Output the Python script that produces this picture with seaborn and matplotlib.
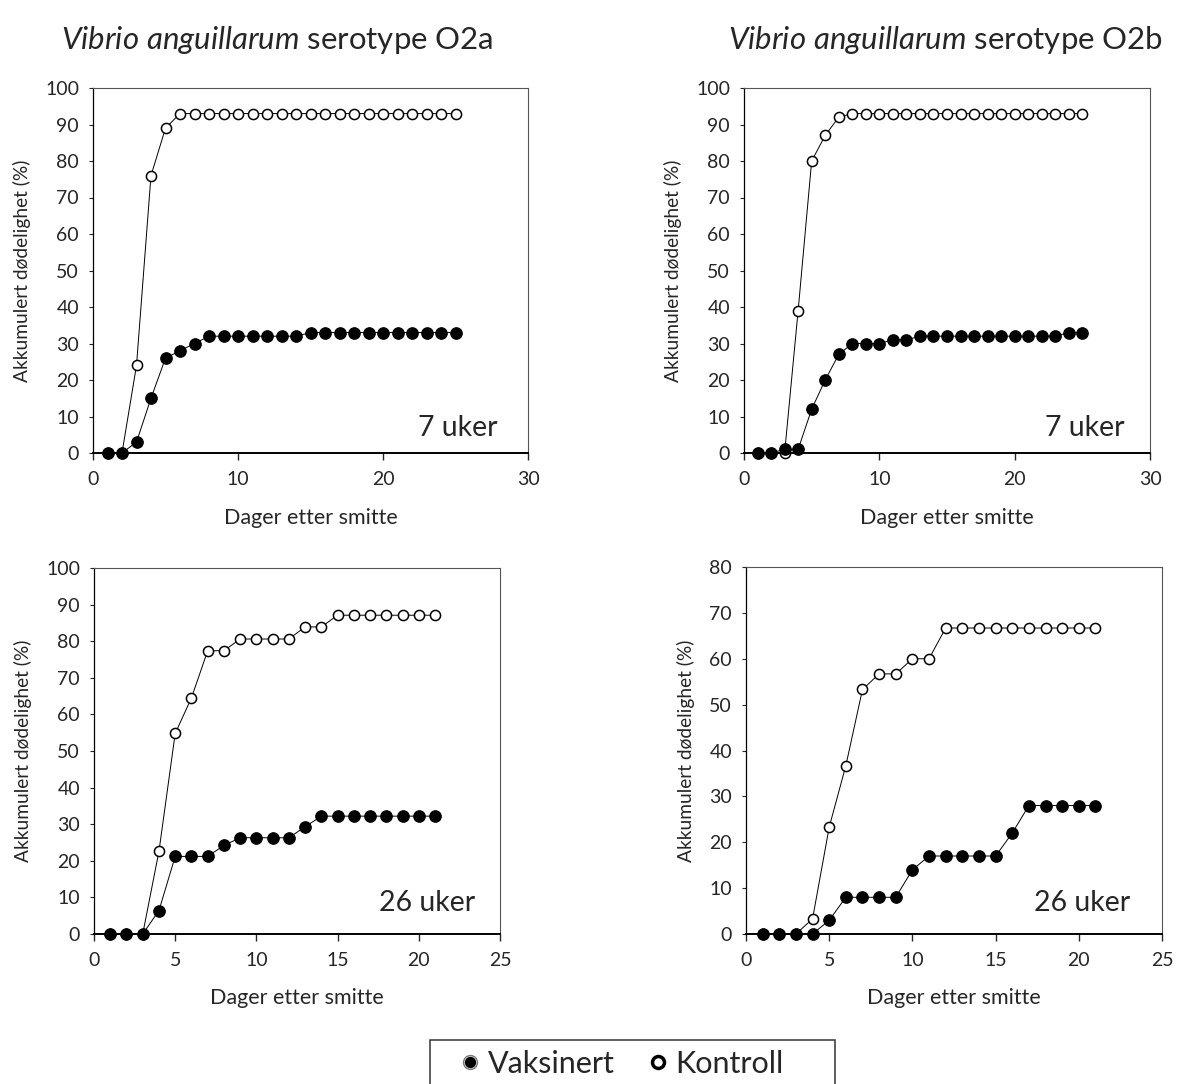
import matplotlib
matplotlib.use("Agg")
import matplotlib.pyplot as plt
from matplotlib.lines import Line2D
from matplotlib.patches import Rectangle
from matplotlib.legend_handler import HandlerTuple
import seaborn as sns
import pandas as pd

# ---------------- data ----------------
days_25 = [1, 2, 3, 4, 5, 6, 7, 8, 9, 10, 11, 12, 13, 14, 15, 16, 17, 18, 19, 20, 21, 22, 23, 24, 25]
days_21 = [1, 2, 3, 4, 5, 6, 7, 8, 9, 10, 11, 12, 13, 14, 15, 16, 17, 18, 19, 20, 21]

# O2a, 7 uker
kontroll_a7 = [0, 0, 24, 76, 89, 93, 93, 93, 93, 93, 93, 93, 93, 93, 93, 93, 93, 93, 93, 93, 93, 93, 93, 93, 93]
vaks_a7 = [0, 0, 3, 15, 26, 28, 30, 32, 32, 32, 32, 32, 32, 32, 33, 33, 33, 33, 33, 33, 33, 33, 33, 33, 33]
# O2b, 7 uker
kontroll_b7 = [0, 0, 0, 39, 80, 87, 92, 93, 93, 93, 93, 93, 93, 93, 93, 93, 93, 93, 93, 93, 93, 93, 93, 93, 93]
vaks_b7 = [0, 0, 1, 1, 12, 20, 27, 30, 30, 30, 31, 31, 32, 32, 32, 32, 32, 32, 32, 32, 32, 32, 32, 33, 33]
# O2a, 26 uker
kontroll_a26 = [0, 0, 0, 22.6, 54.8, 64.5, 77.4, 77.4, 80.6, 80.6, 80.6, 80.6, 83.9, 83.9, 87.1, 87.1, 87.1, 87.1, 87.1, 87.1, 87.1]
vaks_a26 = [0, 0, 0, 6.4, 21.2, 21.2, 21.2, 24.2, 26.3, 26.3, 26.3, 26.3, 29.3, 32.2, 32.2, 32.2, 32.2, 32.2, 32.2, 32.2, 32.2]
# O2b, 26 uker
kontroll_b26 = [0, 0, 0, 3.3, 23.3, 36.7, 53.3, 56.7, 56.7, 60, 60, 66.7, 66.7, 66.7, 66.7, 66.7, 66.7, 66.7, 66.7, 66.7, 66.7]
vaks_b26 = [0, 0, 0, 0, 3, 8, 8, 8, 8, 14, 17, 17, 17, 17, 17, 22, 28, 28, 28, 28, 28]

titles = ["serotype O2a", "serotype O2b"]
species = "Vibrio anguillarum"
panel_labels = ["7 uker", "7 uker", "26 uker", "26 uker"]
xlabel = "Dager etter smitte"
ylabel = "Akkumulert dødelighet (%)"
legend_labels = ["Vaksinert", "Kontroll"]

# ---------------- style ----------------
sns.set_style("white")
plt.rcParams["font.family"] = ["Lato", "DejaVu Sans"]
plt.rcParams["mathtext.fontset"] = "custom"
plt.rcParams["mathtext.rm"] = "Lato"
plt.rcParams["mathtext.it"] = "Lato:italic"

fig = plt.figure(figsize=(11.88, 10.84), dpi=100)
W, H = 1188, 1084

def px_axes(l, r, t, b):
    return fig.add_axes([l / W, 1 - b / H, (r - l) / W, (b - t) / H])

axes = [
    px_axes(93, 528, 88, 453),
    px_axes(744, 1150, 88, 453),
    px_axes(94, 500, 568, 934),
    px_axes(746, 1162, 567, 934),
]

panels = [
    (days_25, kontroll_a7, vaks_a7, (0, 30), [0, 10, 20, 30], (0, 100), list(range(0, 101, 10))),
    (days_25, kontroll_b7, vaks_b7, (0, 30), [0, 10, 20, 30], (0, 100), list(range(0, 101, 10))),
    (days_21, kontroll_a26, vaks_a26, (0, 25), [0, 5, 10, 15, 20, 25], (0, 100), list(range(0, 101, 10))),
    (days_21, kontroll_b26, vaks_b26, (0, 25), [0, 5, 10, 15, 20, 25], (0, 80), list(range(0, 81, 10))),
]

label_pos = [(0.93, 0.068), (0.938, 0.068), (0.938, 0.085), (0.923, 0.085)]

for i, (ax, (d, kon, vak, xl, xt, yl, yt)) in enumerate(zip(axes, panels)):
    df = pd.DataFrame({"dag": d, "kontroll": kon, "vaksinert": vak})
    sns.lineplot(data=df, x="dag", y="kontroll", ax=ax, color="black", linewidth=0.7,
                 marker="o", markersize=7.3, markerfacecolor="white", markeredgecolor="black",
                 markeredgewidth=1.1, clip_on=False, zorder=3)
    sns.lineplot(data=df, x="dag", y="vaksinert", ax=ax, color="black", linewidth=0.7,
                 marker="o", markersize=8.3, markerfacecolor="black", markeredgecolor="black",
                 markeredgewidth=0.8, clip_on=False, zorder=4)
    ax.set_xlim(*xl)
    ax.set_ylim(*yl)
    ax.set_xticks(xt)
    ax.set_yticks(yt)
    ax.set_xlabel(xlabel, fontsize=15.5, labelpad=14)
    ax.set_ylabel(ylabel, fontsize=13.8, labelpad=10)
    ax.tick_params(axis="x", direction="out", length=5, width=1, pad=8, labelsize=14, bottom=True)
    ax.tick_params(axis="y", direction="out", length=3, width=0.8, pad=7, labelsize=14, left=True)
    for side in ["top", "right"]:
        ax.spines[side].set_color("#555555")
        ax.spines[side].set_linewidth(0.8)
    ax.spines["left"].set_color("black")
    ax.spines["left"].set_linewidth(0.9)
    ax.spines["bottom"].set_color("black")
    ax.spines["bottom"].set_linewidth(1.4)
    ax.grid(False)
    lx, ly = label_pos[i]
    ax.text(lx, ly, panel_labels[i], transform=ax.transAxes, ha="right", va="center", fontsize=20.5)

# titles
sp = species.replace(" ", r"\ ")
fig.text(277 / W, 1 - 40 / H, r"$\mathit{" + sp + "}$ " + titles[0], ha="center", va="center", fontsize=22.4)
fig.text(945 / W, 1 - 40 / H, r"$\mathit{" + sp + "}$ " + titles[1], ha="center", va="center", fontsize=22.4)

# legend (frame drawn separately so it can run off the bottom edge as in the reference)
h_vak = (Line2D([], [], linestyle="none", marker="o", markersize=10, markerfacecolor="white",
                markeredgecolor="#777777", markeredgewidth=1.0),
         Line2D([], [], linestyle="none", marker="o", markersize=7.2, markerfacecolor="black",
                markeredgecolor="black"))
h_kon = Line2D([], [], linestyle="none", marker="o", markersize=8.6, markerfacecolor="white",
               markeredgecolor="black", markeredgewidth=2.5)
leg = fig.legend([h_vak, h_kon], legend_labels, loc="center left",
                 bbox_to_anchor=(461 / W, 1 - 1064 / H), ncol=2, fontsize=22,
                 frameon=False, handlelength=0.6, handletextpad=0.28, columnspacing=1.1,
                 borderpad=0, borderaxespad=0,
                 handler_map={tuple: HandlerTuple(ndivide=1, pad=0)})
fig.patches.append(Rectangle((430 / W, 1 - 1095 / H), 405 / W, 55 / H, transform=fig.transFigure,
                             fill=False, edgecolor="#333333", linewidth=1.1))

fig.savefig("out.png", dpi=100)
